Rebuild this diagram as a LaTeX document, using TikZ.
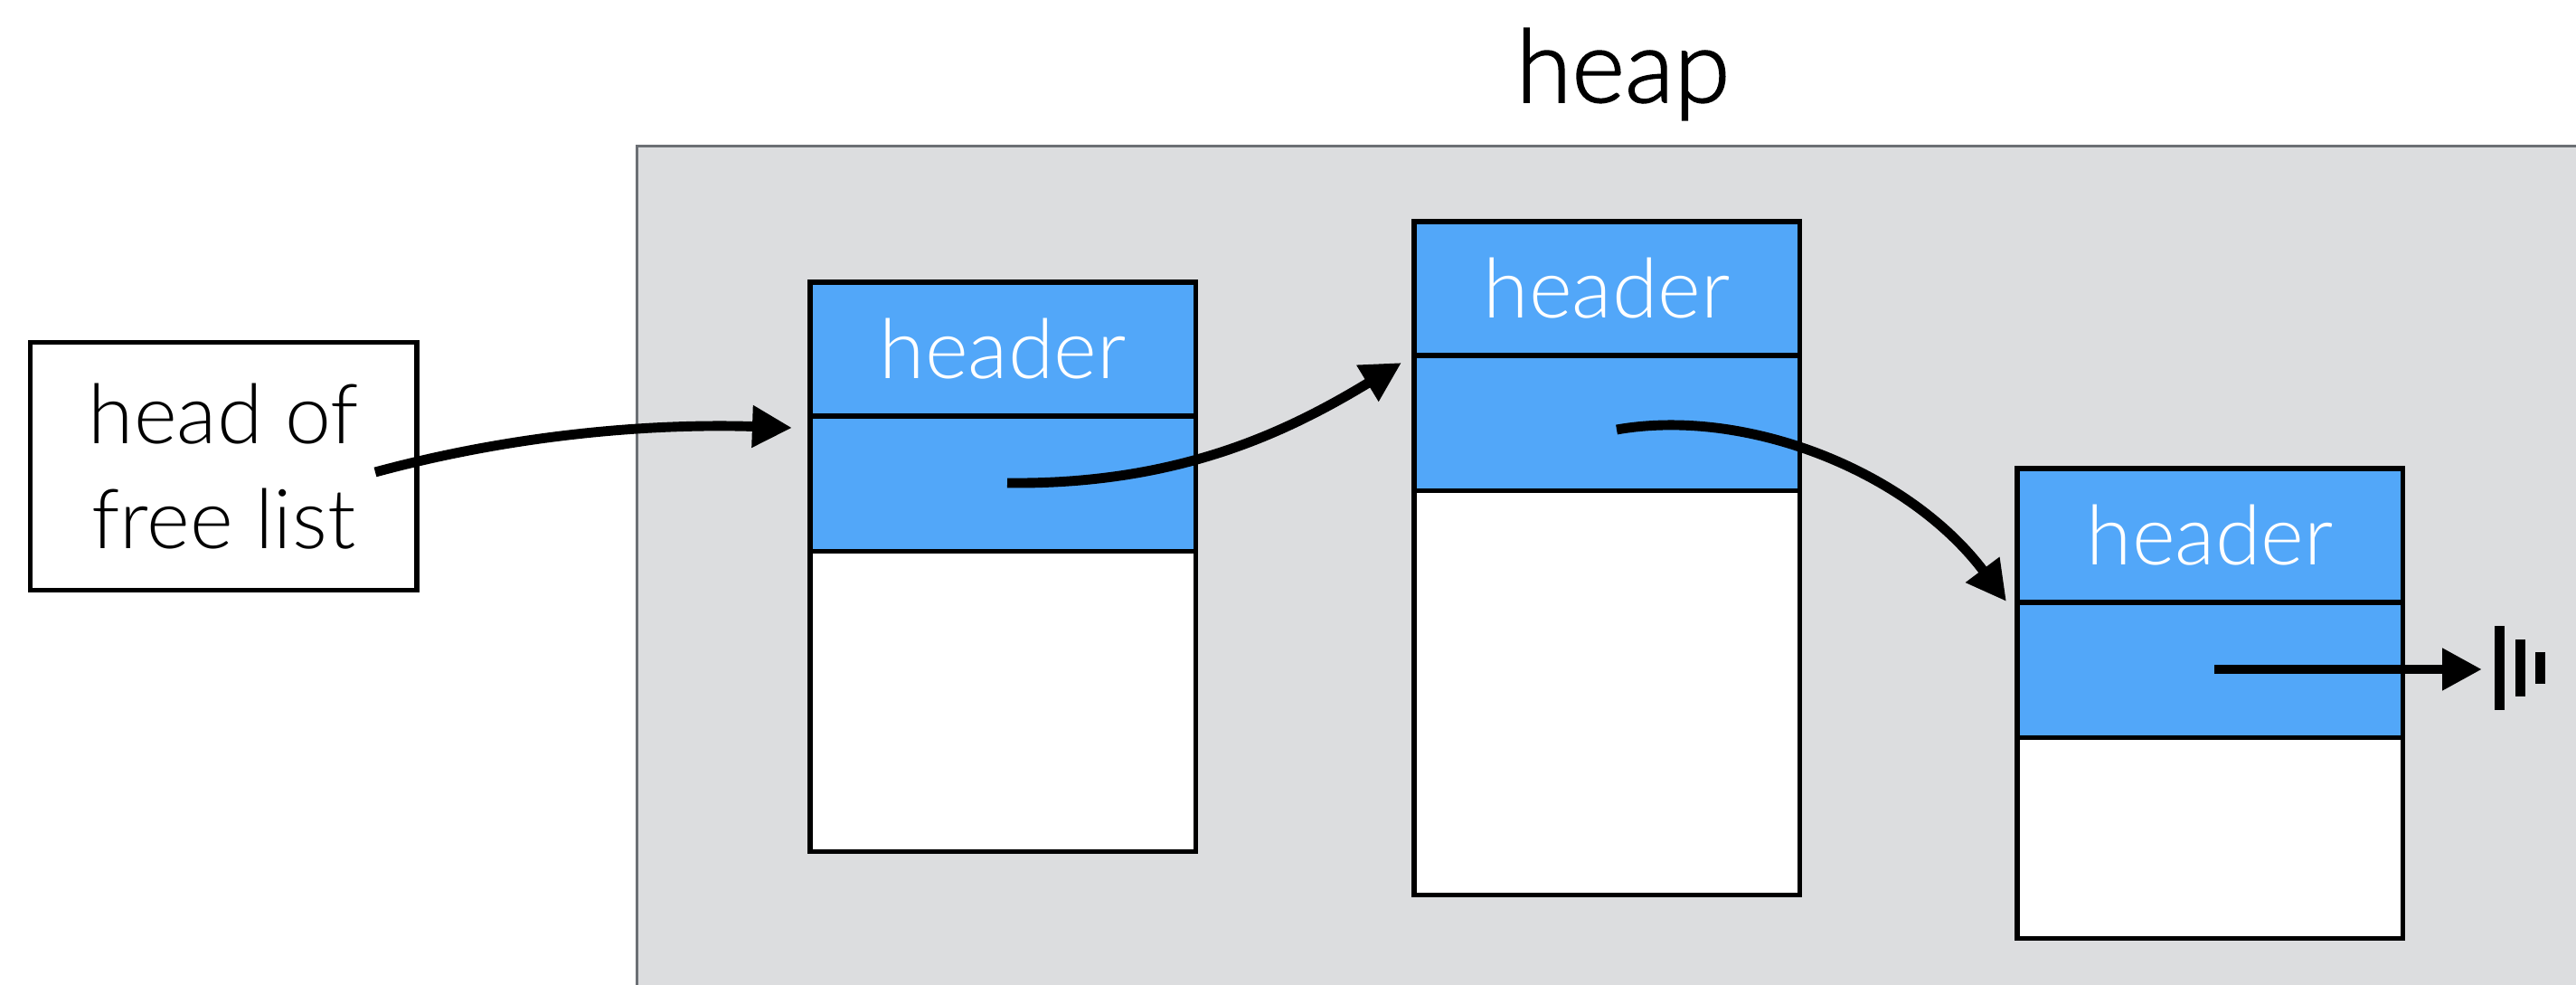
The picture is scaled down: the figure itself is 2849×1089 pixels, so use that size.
\documentclass[tikz,border=0pt]{standalone}
\usepackage{fontspec}
\setmainfont{Lato Light}
\newfontfamily\titlefont{Lato Light}[RawFeature={embolden=1.5}]
\usetikzlibrary{arrows.meta}
\definecolor{heapgray}{HTML}{DCDDDF}
\definecolor{heapline}{HTML}{6B6F74}
\definecolor{cellblue}{HTML}{52A7F9}
\begin{document}
\begin{tikzpicture}[x=0.01cm, y=-0.01cm,
  cell/.style={draw=black, line width=1.5pt, minimum width=4.26cm, inner sep=0pt, outer sep=0pt, anchor=north west},
  cellhdr/.style={cell, fill=cellblue, minimum height=1.48cm, text=white, font=\fontsize{26}{30}\selectfont},
  cellptr/.style={cell, fill=cellblue, minimum height=1.49cm},
  cellbody/.style={cell, fill=white},
  link/.style={line width=3.1pt, -{Triangle[length=0.44cm, width=0.44cm]}},
  groundbar/.style={line width=0.11cm}]
\useasboundingbox (0,0) rectangle (2849,1089);
\clip (0,0) rectangle (2849,1089);
% heap region
\node[draw=heapline, line width=0.85pt, fill=heapgray, minimum width=22cm, minimum height=10cm, anchor=north west, inner sep=0pt] (heap) at (703,160) {};
\node[font=\titlefont\fontsize{32}{36}\selectfont] (heaplabel) at (1795,82) {heap};
% head of free list
\node[draw=black, line width=1.5pt, fill=white, minimum width=4.27cm, minimum height=2.74cm, anchor=north west, inner sep=0pt, align=center, font=\fontsize{26}{33}\selectfont] (headbox) at (31,376) {head of\\free list};
% block 1
\node[cellhdr] (b1h) at (896,312) {header};
\node[cellptr] (b1p) at (b1h.south west) {};
\node[cellbody, minimum height=3.32cm] (b1b) at (b1p.south west) {};
% block 2
\node[cellhdr] (b2h) at (1564,245) {header};
\node[cellptr] (b2p) at (b2h.south west) {};
\node[cellbody, minimum height=4.47cm] (b2b) at (b2p.south west) {};
% block 3
\node[cellhdr] (b3h) at (2231,518) {header};
\node[cellptr] (b3p) at (b3h.south west) {};
\node[cellbody, minimum height=2.22cm] (b3b) at (b3p.south west) {};
% pointer coordinates
\coordinate (s0) at (415,522);
\coordinate (t1) at (876,473);
\coordinate (s1) at (1114,534);
\coordinate (t2) at (1550,401);
\coordinate (s2) at (1788,475);
\coordinate (t3) at (2219,665);
\coordinate (s3) at (2449,740);
\coordinate (gnd) at (2745,740);
% links
\draw[link] (s0) .. controls (600,472) and (760,469) .. (t1);
\draw[link] (s1) .. controls (1300,536) and (1420,480) .. (t2);
\draw[link] (s2) .. controls (1930,450) and (2110,520) .. (t3);
\draw[link] (s3) -- (gnd);
% null symbol
\draw[groundbar] (2764.5,692) -- (2764.5,785);
\draw[groundbar] (2787.5,707) -- (2787.5,770);
\draw[groundbar] (2809.5,721) -- (2809.5,756);
\end{tikzpicture}
\end{document}
